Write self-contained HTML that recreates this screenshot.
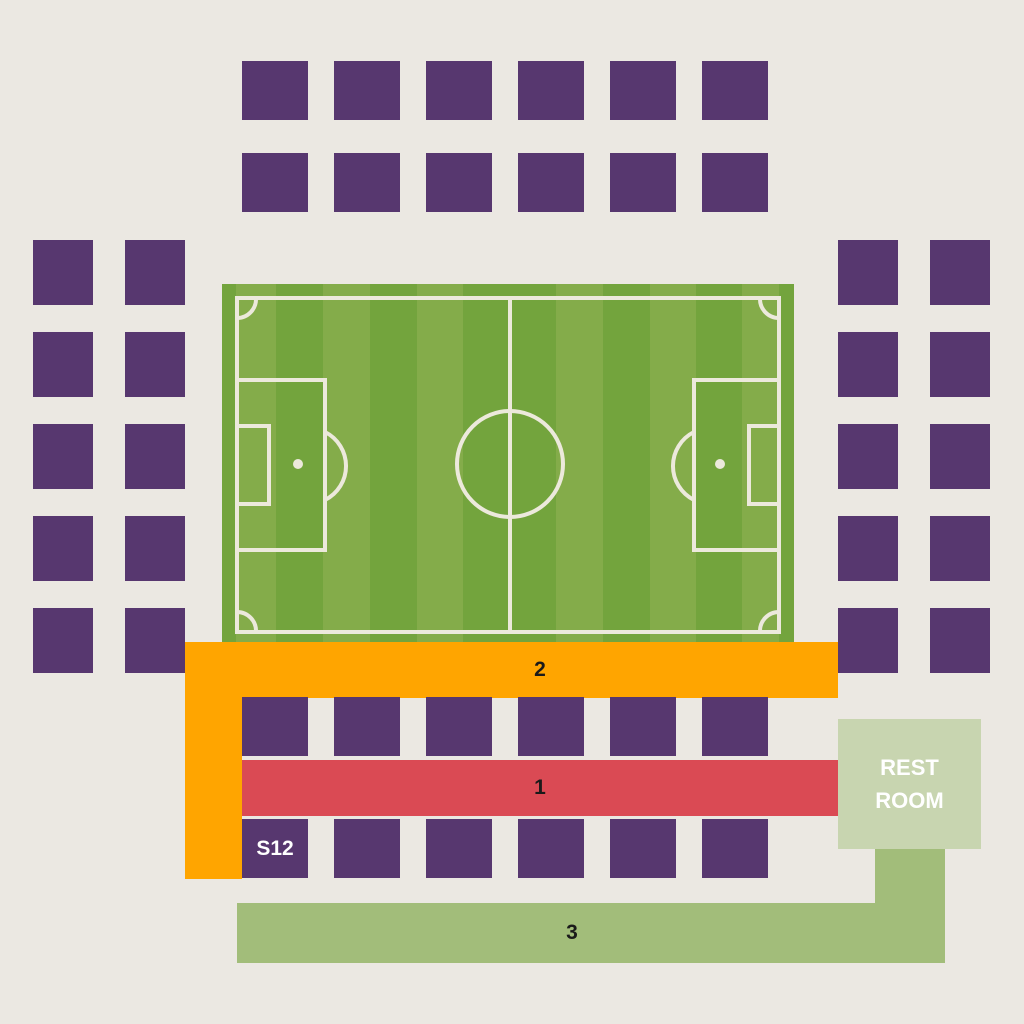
<!DOCTYPE html>
<html><head><meta charset="utf-8"><style>
html,body{margin:0;padding:0}
body{width:1024px;height:1024px;background:#ebe8e2;position:relative;overflow:hidden;font-family:"Liberation Sans",sans-serif}
.b{position:absolute}
.seat{position:absolute;background:#57376f}
.lbl{display:flex;align-items:center;justify-content:center;font-weight:bold;font-size:21px;color:#1a1a1a}
</style></head><body>
<svg class="b" style="left:222px;top:284px" width="572" height="358" viewBox="222 284 572 358">
<rect x="222" y="284" width="572" height="358" fill="#73a43d"/>
<g fill="#84ac4a">
<rect x="236" y="284" width="40" height="358"/><rect x="323" y="284" width="47" height="358"/><rect x="417" y="284" width="46" height="358"/>
<rect x="556" y="284" width="47" height="358"/><rect x="650" y="284" width="46" height="358"/><rect x="742" y="284" width="37" height="358"/>
</g>
<g fill="none" stroke="#ece9dc" stroke-width="4">
<rect x="237" y="298" width="542" height="334"/>
<line x1="510" y1="298" x2="510" y2="632"/>
<circle cx="510" cy="464" r="53"/>
<rect x="237" y="380" width="88" height="170"/>
<rect x="237" y="426" width="32" height="78"/>
<path d="M325 432 A38 38 0 0 1 325 500"/>
<rect x="694" y="380" width="85" height="170"/>
<rect x="749" y="426" width="30" height="78"/>
<path d="M694 432 A38 38 0 0 0 694 500"/>
<path d="M237 318 A19 19 0 0 0 256 298"/><path d="M760 298 A19 19 0 0 0 779 318"/>
<path d="M237 612 A19 19 0 0 1 256 632"/><path d="M760 632 A19 19 0 0 1 779 612"/>
</g>
<circle cx="298" cy="464" r="5" fill="#ece9dc"/><circle cx="720" cy="464" r="5" fill="#ece9dc"/>
</svg>

<div class="b" style="left:875px;top:849px;width:70px;height:114px;background:#a2bd7a"></div>
<div class="b lbl" style="left:237px;top:903px;width:708px;height:60px;background:#a2bd7a"><span style="margin-left:-38px">3</span></div>
<div class="b" style="left:185px;top:642px;width:57px;height:237px;background:#ffa500"></div>
<div class="b lbl" style="left:242px;top:642px;width:596px;height:56px;background:#ffa500">2</div>
<div class="b lbl" style="left:242px;top:760px;width:596px;height:56px;background:#da4a54">1</div>
<div class="b lbl" style="left:838px;top:719px;width:143px;height:130px;background:#c8d5b0;color:#fff;font-size:22px;line-height:33px;text-align:center;flex-direction:column">REST<br>ROOM</div>

<div id="seats"></div>
<script>
const colsTop=[242,334,426,518,610,702];
const rowsTop=[61,153];
const rowsBottom=[697,819];
const colsSide=[33,125,838,930];
const rowsSide=[240,332,424,516,608];
const host=document.getElementById('seats');
function seat(x,y,w,h,name,txt){
  const d=document.createElement('div');
  d.className='seat';
  d.style.cssText=`left:${x}px;top:${y}px;width:${w}px;height:${h}px`;
  
  
  if(txt){d.textContent=txt;d.style.color='#fff';d.style.fontWeight='bold';d.style.fontSize='21px';d.style.display='flex';d.style.alignItems='center';d.style.justifyContent='center';}
  host.appendChild(d);
}
rowsTop.forEach((y,i)=>colsTop.forEach((x,j)=>seat(x,y,66,59,'seat-block-top')));
rowsBottom.forEach((y,i)=>colsTop.forEach((x,j)=>seat(x,y,66,59,'seat-block-bottom',(i==1&&j==0)?'S12':'')));
rowsSide.forEach(y=>colsSide.forEach(x=>seat(x,y,60,65,'seat-block-side')));
</script>
</body></html>
